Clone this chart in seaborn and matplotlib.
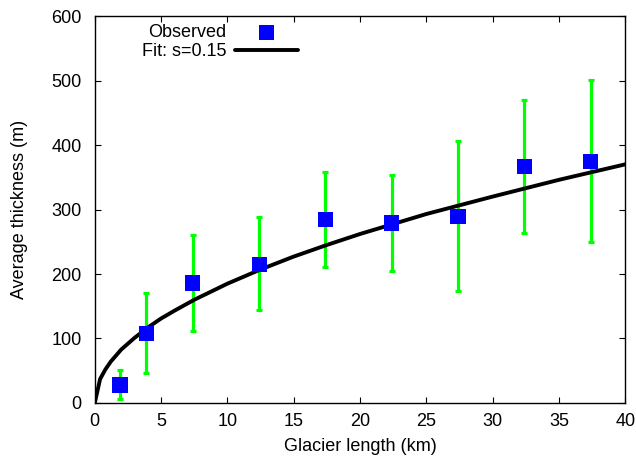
import numpy as np
import pandas as pd
import seaborn as sns
import matplotlib.pyplot as plt

# Observed glacier thickness
length_km = [1.9, 3.9, 7.4, 12.4, 17.4, 22.4, 27.4, 32.4, 37.4]
thickness_m = [28, 108, 186, 215, 284, 279, 289, 367, 375]
err_low = [6, 46, 112, 144, 211, 205, 174, 264, 250]
err_high = [51, 171, 260, 288, 358, 353, 406, 470, 501]

# Fit curve (s=0.15)
fit_x = [0, 0.4, 0.8, 1.2, 2, 3, 4, 5, 6, 7.5, 10, 12.5, 15, 17.5, 20, 25, 30, 35, 40]
fit_y = [0, 37, 52, 64, 83, 101, 117, 131, 143, 160, 185, 207, 227, 245, 262, 293, 320, 346, 370]

sns.set_style("ticks")
plt.rcParams['font.family'] = ['Liberation Sans', 'DejaVu Sans']
plt.rcParams['font.size'] = 13
plt.rcParams['text.color'] = "black"
plt.rcParams['axes.labelcolor'] = "black"

obs = pd.DataFrame({"length": length_km, "thickness": thickness_m})
fit = pd.DataFrame({"length": fit_x, "thickness": fit_y})

fig = plt.figure(figsize=(6.36, 4.63), dpi=100)
ax = fig.add_axes([0.149, 0.1296, 0.834, 0.8358])

# Error bars drawn first, under the markers
yerr = [np.array(thickness_m) - np.array(err_low), np.array(err_high) - np.array(thickness_m)]
ax.errorbar(length_km, thickness_m, yerr=yerr, fmt="none", ecolor="#00ff00",
            elinewidth=2.3, capsize=2.2, capthick=2.3, zorder=2)

sns.lineplot(data=fit, x="length", y="thickness", color="black", linewidth=2.8,
             ax=ax, label="Fit: s=0.15", zorder=3, sort=False)
sns.scatterplot(data=obs, x="length", y="thickness", marker="s", s=120, color="#0000ff",
                edgecolor="none", ax=ax, label="Observed", zorder=4)

ax.set_xlim(0, 40)
ax.set_ylim(0, 600)
ax.set_xticks(range(0, 41, 5))
ax.set_yticks(range(0, 601, 100))
ax.set_xlabel("Glacier length (km)", fontsize=13, labelpad=6)
ax.set_ylabel("Average thickness (m)", fontsize=13, labelpad=17)
ax.tick_params(direction="in", top=True, right=True, length=4, width=0.8,
               colors="black", labelsize=13)
ax.tick_params(axis="x", pad=7)
ax.tick_params(axis="y", pad=9.5)
for sp in ax.spines.values():
    sp.set_visible(True)
    sp.set_linewidth(1.0)
    sp.set_color("black")

# Legend: text on the left, sample on the right, observed first
handles, labels = ax.get_legend_handles_labels()
order = [labels.index("Observed"), labels.index("Fit: s=0.15")]
ax.legend([handles[i] for i in order], [labels[i] for i in order],
          loc="upper right", bbox_to_anchor=(0.383, 0.979), markerfirst=False,
          frameon=False, borderpad=0, borderaxespad=0, handlelength=3.5,
          handletextpad=0.45, labelspacing=0.1, fontsize=13)

plt.savefig("out.png", dpi=100)
